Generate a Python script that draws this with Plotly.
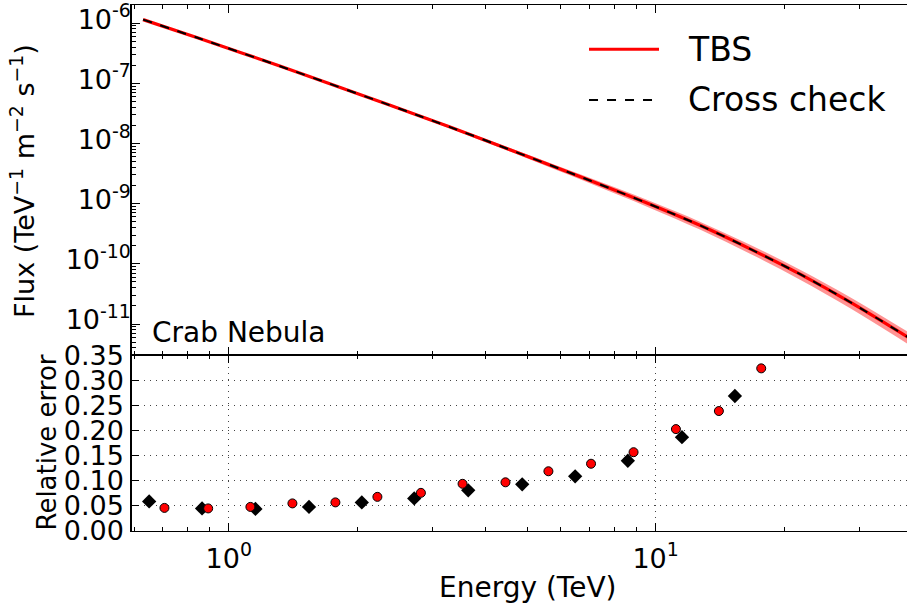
import plotly.graph_objects as go

# Spectral model curve: energy (TeV) and differential flux (TeV^-1 m^-2 s^-1)
curve_energy = [0.63, 0.855, 1.18, 1.63, 2.38, 3.3, 4.81, 6.83, 9.7, 12.7, 16.6, 21.8, 28.5, 40.0]
tbs_flux = [1.14e-6, 5.53e-7, 2.53e-7, 1.13e-7, 4.34e-8, 1.87e-8, 6.79e-9, 2.61e-9,
            9.76e-10, 4.36e-10, 1.79e-10, 6.73e-11, 2.33e-11, 5.4e-12]
cross_flux = [1.14e-6, 5.53e-7, 2.53e-7, 1.13e-7, 4.34e-8, 1.87e-8, 6.79e-9, 2.61e-9,
              9.76e-10, 4.36e-10, 1.79e-10, 6.73e-11, 2.33e-11, 5.4e-12]
# fractional half-width of the TBS confidence band
tbs_band_rel = [0.02, 0.02, 0.025, 0.03, 0.04, 0.05, 0.07, 0.10, 0.13, 0.15, 0.17, 0.19, 0.21, 0.23]

# Relative error of the reconstructed spectrum per energy bin
tbs_err_energy = [0.707, 0.895, 1.124, 1.41, 1.778, 2.23, 2.82, 3.53, 4.45, 5.61, 7.06, 8.88, 11.16, 14.07, 17.68]
tbs_rel_err = [0.046, 0.045, 0.048, 0.055, 0.057, 0.068, 0.076, 0.094, 0.097, 0.119, 0.134, 0.157, 0.203, 0.239, 0.324]
cross_err_energy = [0.651, 0.866, 1.155, 1.542, 2.05, 2.72, 3.64, 4.87, 6.48, 8.61, 11.53, 15.34]
cross_rel_err = [0.059, 0.045, 0.044, 0.048, 0.057, 0.065, 0.081, 0.093, 0.109, 0.140, 0.187, 0.269]

# Tick labels
energy_ticks = [1, 10]
energy_tick_text = ["10<sup>0</sup>", "10<sup>1</sup>"]
energy_minor = [0.6, 0.7, 0.8, 0.9, 2, 3, 4, 5, 6, 7, 8, 9, 20, 30, 40]
flux_ticks = [1e-11, 1e-10, 1e-9, 1e-8, 1e-7, 1e-6]
flux_tick_text = ["10<sup>-11</sup>", "10<sup>-10</sup>", "10<sup>-9</sup>",
                  "10<sup>-8</sup>", "10<sup>-7</sup>", "10<sup>-6</sup>"]
flux_minor = [m * 10.0 ** k for k in range(-12, -5) for m in range(2, 10)]
err_ticks = [0.0, 0.05, 0.10, 0.15, 0.20, 0.25, 0.30, 0.35]
err_tick_text = ["0.00", "0.05", "0.10", "0.15", "0.20", "0.25", "0.30", "0.35"]

FONT = "DejaVu Sans"
RED = "#ff0000"

band_hi = [f * (1 + r) for f, r in zip(tbs_flux, tbs_band_rel)]
band_lo = [f * (1 - r) for f, r in zip(tbs_flux, tbs_band_rel)]

fig = go.Figure()

# TBS band
fig.add_trace(go.Scatter(x=curve_energy, y=band_hi, mode="lines",
                         line=dict(width=0, shape="spline", color=RED),
                         hoverinfo="skip", showlegend=False, xaxis="x", yaxis="y"))
fig.add_trace(go.Scatter(x=curve_energy, y=band_lo, mode="lines",
                         line=dict(width=0, shape="spline", color=RED),
                         fill="tonexty", fillcolor="rgba(255,0,0,0.42)",
                         hoverinfo="skip", showlegend=False, xaxis="x", yaxis="y"))
# TBS curve
fig.add_trace(go.Scatter(x=curve_energy, y=tbs_flux, mode="lines", name="TBS",
                         line=dict(color=RED, width=3.2, shape="spline"),
                         showlegend=False, xaxis="x", yaxis="y"))
# Cross-check curve
fig.add_trace(go.Scatter(x=curve_energy, y=cross_flux, mode="lines", name="Cross check",
                         line=dict(color="black", width=2, dash="9px,9px", shape="spline"),
                         showlegend=False, xaxis="x", yaxis="y"))

# Relative errors
fig.add_trace(go.Scatter(x=cross_err_energy, y=cross_rel_err, mode="markers", name="Cross check",
                         marker=dict(symbol="diamond", size=11, color="black", line=dict(width=0)),
                         showlegend=False, xaxis="x2", yaxis="y2"))
fig.add_trace(go.Scatter(x=tbs_err_energy, y=tbs_rel_err, mode="markers", name="TBS",
                         marker=dict(symbol="circle", size=9, color=RED,
                                     line=dict(width=1, color="black")),
                         showlegend=False, xaxis="x2", yaxis="y2"))

tick_font = dict(family=FONT, size=27, color="black")
x_range = [-0.2266, 1.589]
split = 0.334

common_x = dict(type="log", range=x_range, showline=True, linecolor="black", linewidth=1.3,
                mirror="allticks", ticks="inside", ticklen=8, tickwidth=1, tickcolor="black",
                tickmode="array", tickvals=energy_ticks, ticktext=energy_tick_text,
                zeroline=False, tickfont=tick_font, automargin=False,
                ticklabeloverflow="allow",
                minor=dict(ticks="inside", ticklen=4, tickwidth=1, tickcolor="black",
                           tickmode="array", tickvals=energy_minor, showgrid=False))

fig.update_layout(
    width=907, height=608,
    margin=dict(l=132, r=0, t=5, b=77, autoexpand=False),
    paper_bgcolor="white", plot_bgcolor="white",
    font=dict(family=FONT, color="black"),
    showlegend=False,
    xaxis=dict(common_x, anchor="y", domain=[0, 1], showticklabels=False, showgrid=False),
    xaxis2=dict(common_x, anchor="y2", domain=[0, 1], matches="x", showticklabels=True,
                showgrid=True, gridcolor="#444444", gridwidth=1, griddash="1px,5px",
                ticklabelstandoff=3),
    yaxis=dict(type="log", range=[-11.52, -5.70], domain=[split, 1], anchor="x",
               showline=True, linecolor="black", linewidth=1.5, mirror=False,
               ticks="inside", ticklen=8, tickwidth=1, tickcolor="black",
               tickmode="array", tickvals=flux_ticks, ticktext=flux_tick_text,
               tickfont=tick_font, showgrid=False, zeroline=False, automargin=False,
               ticklabeloverflow="allow", ticklabelstandoff=-6, ticklabelshift=-4,
               minor=dict(ticks="inside", ticklen=4, tickwidth=1, tickcolor="black",
                          tickmode="array", tickvals=flux_minor, showgrid=False)),
    yaxis2=dict(range=[0, 0.35], domain=[0, split], anchor="x2",
                showline=True, linecolor="black", linewidth=1.5, mirror=False,
                ticks="inside", ticklen=7, tickwidth=1, tickcolor="black",
                tickmode="array", tickvals=err_ticks, ticktext=err_tick_text,
                tickfont=tick_font, showgrid=True, gridcolor="#444444", gridwidth=1,
                griddash="1px,5px", zeroline=False, automargin=False,
                ticklabeloverflow="allow", ticklabelstandoff=1),
)

# Legend drawn as line samples with labels
legend_rows = [("TBS", RED, 3, "solid", 0.9158), ("Cross check", "black", 2, "9px,9px", 0.8194)]
for label, color, width, dash, ypos in legend_rows:
    fig.add_shape(type="line", xref="paper", yref="paper", x0=0.5897, x1=0.68, y0=ypos, y1=ypos,
                  line=dict(color=color, width=width, dash=dash))
    fig.add_annotation(text=label, xref="paper", yref="paper", x=0.7148, y=ypos,
                       xanchor="left", yanchor="middle", showarrow=False,
                       font=dict(family=FONT, size=33, color="black"))

# Source name
fig.add_annotation(text="Crab Nebula", xref="paper", yref="paper", x=0.0232, y=0.3783,
                   xanchor="left", yanchor="middle", showarrow=False,
                   font=dict(family=FONT, size=28, color="black"))

# Axis titles
fig.add_annotation(text="Flux (TeV<sup>\u22121</sup> m<sup>\u22122</sup> s<sup>\u22121</sup>)",
                   xref="paper", yref="paper", x=0, xshift=-109, y=0.6654,
                   xanchor="center", yanchor="middle", textangle=-90, showarrow=False,
                   font=dict(family=FONT, size=27, color="black"))
fig.add_annotation(text="Relative error", xref="paper", yref="paper", x=0, xshift=-84.5, y=0.1673,
                   xanchor="center", yanchor="middle", textangle=-90, showarrow=False,
                   font=dict(family=FONT, size=26, color="black"))
fig.add_annotation(text="Energy (TeV)", xref="paper", yref="paper", x=0.5107, y=-0.1065,
                   xanchor="center", yanchor="middle", showarrow=False,
                   font=dict(family=FONT, size=28, color="black"))

fig.write_html("out.html")
